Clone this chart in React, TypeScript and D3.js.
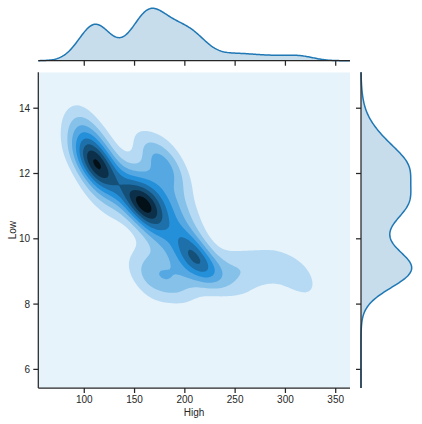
import * as d3 from "d3";

// observations (High, Low) with how many times each one occurs
const obsHigh = [
  100, 93, 105, 98, 110, 108, 116, 112, 121, 102, 118, 127, 110, 88, 98, 120,
  157, 149, 164, 143, 169, 160, 140, 174, 160, 176, 187, 170, 186, 200, 140, 132, 182, 192, 180, 160, 132, 125, 150, 183, 203, 210, 172,
  212, 205, 199, 221, 193, 217, 204, 227, 194, 186,
  158, 168, 178, 189, 200, 212, 170, 160, 178, 176, 166, 168, 192, 150, 170,
  236, 249, 263, 278, 292, 300, 308, 318, 322, 255,
];
const obsLow = [
  13.6, 13.3, 13.2, 12.8, 12.8, 12.35, 12.4, 12.1, 12.0, 12.1, 11.6, 11.6, 11.4, 12.6, 14.1, 13.1,
  11.1, 11.35, 10.9, 11.7, 11.4, 10.7, 11.1, 10.7, 11.85, 12.2, 11.7, 12.5, 12.5, 11.8, 12.2, 12.0, 11.2, 11.0, 13.1, 13.0, 11.0, 10.6, 11.0, 12.2, 11.0, 10.5, 11.1,
  9.35, 9.75, 10.15, 9.1, 10.6, 9.85, 9.2, 8.8, 9.5, 10.25,
  8.75, 8.8, 8.75, 8.8, 8.75, 8.7, 9.35, 9.4, 9.75, 10.1, 10.25, 8.25, 8.3, 9.1, 10.5,
  8.9, 9.05, 9.1, 9.15, 9.25, 9.3, 8.75, 9.0, 8.5, 8.5,
];
const obsCount = [
  2, 2, 3, 3, 4, 6, 6, 5, 3, 2, 3, 2, 2, 1, 1, 1,
  10, 3, 4, 3, 4, 4, 2, 2, 4, 3, 3, 3, 2, 1, 1, 1, 2, 2, 1, 2, 1, 1, 1, 2, 1, 1, 2,
  7, 5, 3, 4, 2, 1, 3, 1, 2, 2,
  2, 2, 3, 3, 2, 1, 2, 1, 2, 1, 2, 1, 1, 1, 1,
  3, 3, 3, 3, 2, 1, 2, 2, 1, 1,
];

const highTicks = [100, 150, 200, 250, 300, 350];
const lowTicks = [6, 8, 10, 12, 14];
const highDomain = [54.3, 364.2];
const lowDomain = [5.43, 15.1];

const width = 422;
const height = 424;
const left = 38.3;
const right = 350;
const top = 72.3;
const bottom = 388;
const topBase = 60.7;
const topPeak = 8.3;
const sideBase = 361;
const sidePeak = 411.7;

const ink = "#262626";
const blue = "#1f77b4";
const font = "'Liberation Sans', Arial, sans-serif";

// kernel sizes
const kx = 14;
const ky = 0.48;
const rho = -0.55;
const bwHigh = 12.5;
const bwLow = 0.46;
const nLevels = 9;

function density2d(h: number, l: number) {
  let s = 0;
  for (let i = 0; i < obsHigh.length; i++) {
    const dx = (h - obsHigh[i]) / kx;
    const dy = (l - obsLow[i]) / ky;
    const q = (dx * dx - 2 * rho * dx * dy + dy * dy) / (1 - rho * rho);
    s += obsCount[i] * Math.exp(-0.5 * q);
  }
  return s;
}

function kde1d(vals: number[], bw: number, at: number) {
  let s = 0;
  for (let i = 0; i < vals.length; i++) {
    const z = (at - vals[i]) / bw;
    s += obsCount[i] * Math.exp(-0.5 * z * z);
  }
  return s;
}

export default function App() {
  const x = d3.scaleLinear().domain(highDomain).range([left, right]);
  const y = d3.scaleLinear().domain(lowDomain).range([bottom, top]);

  const nx = 156;
  const ny = 158;
  const cw = (right - left) / nx;
  const ch = (bottom - top) / ny;
  const values = new Array(nx * ny);
  for (let j = 0; j < ny; j++) {
    for (let i = 0; i < nx; i++) {
      const h = x.invert(left + (i + 0.5) * cw);
      const l = y.invert(top + (j + 0.5) * ch);
      values[i + j * nx] = density2d(h, l);
    }
  }
  const vmax = d3.max(values) as number;
  const step = vmax / 8.6;
  const thresholds = d3.range(1, nLevels).map((k) => k * step);
  const contours = d3.contours().size([nx, ny]).thresholds(thresholds)(values);
  const proj = d3.geoTransform({
    point(px: number, py: number) {
      this.stream.point(left + px * cw, top + py * ch);
    },
  });
  const geo = d3.geoPath(proj);
  const bandColor = (k: number) =>
    d3.hsl(204.6, 0.706, 1 - (k + 0.5) / nLevels).formatHex();

  // marginals
  const hs = d3.range(0, 301).map((i) => highDomain[0] + ((highDomain[1] - highDomain[0]) * i) / 300);
  const hd = hs.map((h) => kde1d(obsHigh, bwHigh, h));
  const ls = d3.range(0, 301).map((i) => lowDomain[0] + ((lowDomain[1] - lowDomain[0]) * i) / 300);
  const ld = ls.map((l) => kde1d(obsLow, bwLow, l));

  const yTop = d3
    .scaleLinear()
    .domain([0, d3.max(hd) as number])
    .range([topBase, topPeak]);
  const xSide = d3
    .scaleLinear()
    .domain([0, d3.max(ld) as number])
    .range([sideBase, sidePeak]);

  const topArea = d3
    .area<number>()
    .x((_, i) => x(hs[i]))
    .y0(topBase)
    .y1((d) => yTop(d));
  const topLine = d3
    .line<number>()
    .x((_, i) => x(hs[i]))
    .y((d) => yTop(d));
  const sideArea = d3
    .area<number>()
    .y((_, i) => y(ls[i]))
    .x0(sideBase)
    .x1((d) => xSide(d));
  const sideLine = d3
    .line<number>()
    .y((_, i) => y(ls[i]))
    .x((d) => xSide(d));

  return (
    <svg
      width={width}
      height={height}
      style={{ position: "absolute", left: 0, top: 0, background: "white" }}
      fontFamily={font}
    >
      <defs>
        <clipPath id="main-clip">
          <rect x={left} y={top} width={right - left} height={bottom - top} />
        </clipPath>
      </defs>
      {/* joint density */}
      <g clipPath="url(#main-clip)">
        <rect x={left} y={top} width={right - left} height={bottom - top} fill={bandColor(0)} />
        {contours.map((c, k) => (
          <path key={k} d={geo(c as any) || ""} fill={bandColor(k + 1)} />
        ))}
      </g>
      {/* main axes */}
      <line x1={left} x2={left} y1={top} y2={bottom} stroke={ink} strokeWidth={1.25} />
      <line x1={left} x2={right} y1={bottom} y2={bottom} stroke={ink} strokeWidth={1.25} />
      {highTicks.map((t) => (
        <g key={t}>
          <line x1={x(t)} x2={x(t)} y1={bottom} y2={bottom + 5} stroke={ink} strokeWidth={1.25} />
          <text x={x(t)} y={402.5} textAnchor="middle" fontSize={10} fill={ink}>
            {t}
          </text>
          <line x1={x(t)} x2={x(t)} y1={topBase} y2={topBase + 5} stroke={ink} strokeWidth={1.25} />
        </g>
      ))}
      {lowTicks.map((t) => (
        <g key={t}>
          <line x1={left - 5} x2={left} y1={y(t)} y2={y(t)} stroke={ink} strokeWidth={1.25} />
          <text x={30} y={y(t)} dy="0.35em" textAnchor="end" fontSize={10} fill={ink}>
            {t}
          </text>
          <line x1={sideBase - 5} x2={sideBase} y1={y(t)} y2={y(t)} stroke={ink} strokeWidth={1.25} />
        </g>
      ))}
      <text x={(left + right) / 2} y={416} textAnchor="middle" fontSize={10} fill={ink}>
        High
      </text>
      <text
        transform={`translate(15.5,${(top + bottom) / 2}) rotate(-90)`}
        textAnchor="middle"
        fontSize={10}
        fill={ink}
      >
        Low
      </text>
      {/* top marginal */}
      <path d={topArea(hd) || ""} fill={blue} fillOpacity={0.25} />
      <path d={topLine(hd) || ""} fill="none" stroke={blue} strokeWidth={1.5} />
      <line x1={left} x2={right} y1={topBase} y2={topBase} stroke={ink} strokeWidth={1.25} />
      {/* right marginal */}
      <path d={sideArea(ld) || ""} fill={blue} fillOpacity={0.25} />
      <path d={sideLine(ld) || ""} fill="none" stroke={blue} strokeWidth={1.5} />
      <line x1={sideBase} x2={sideBase} y1={top} y2={bottom} stroke={ink} strokeWidth={1.25} />
    </svg>
  );
}
